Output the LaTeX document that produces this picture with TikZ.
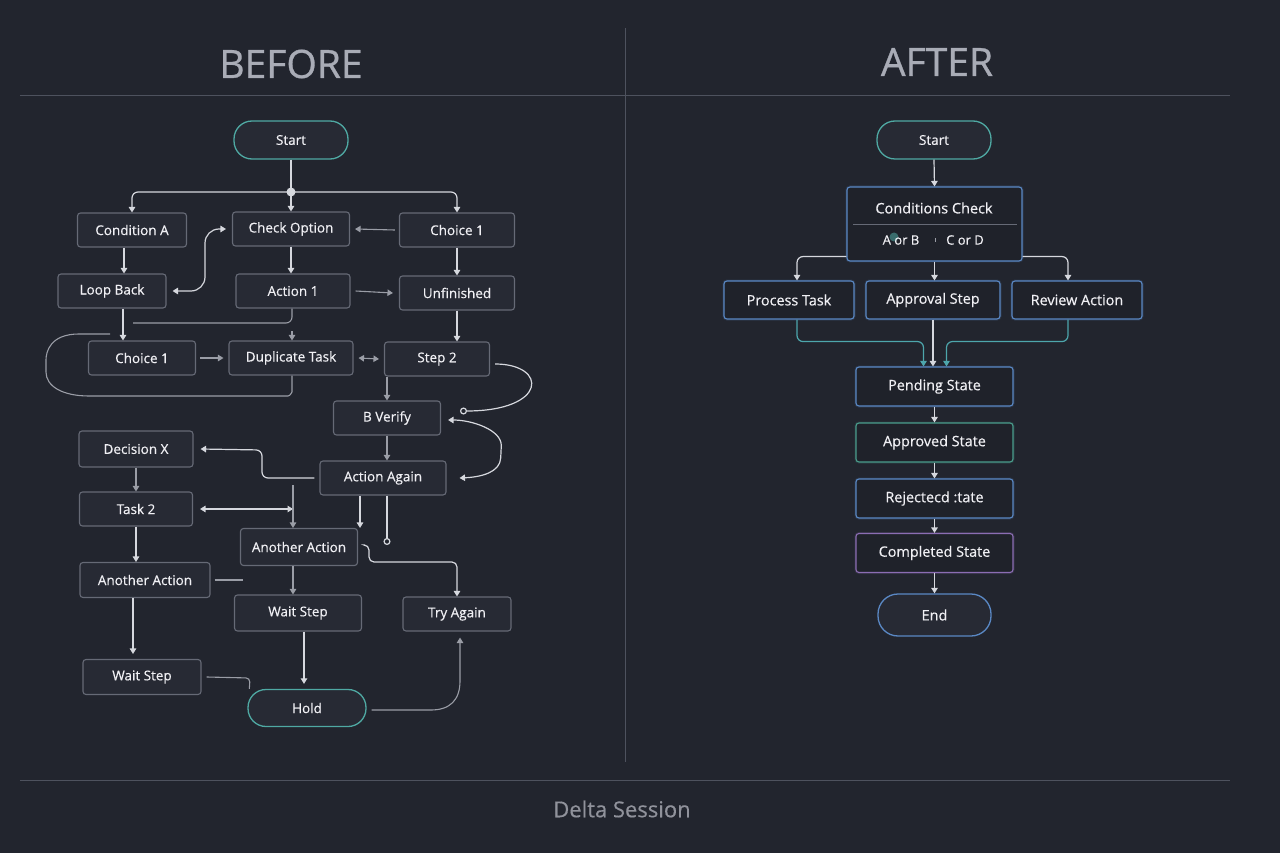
\documentclass[tikz,border=0pt]{standalone}
\usepackage{fontspec}
\setmainfont{Open Sans}
\newfontfamily\medfont{Open Sans}[FakeBold=0.45]
\newfontfamily\titfont{Open Sans}[FakeBold=0.8]
\usetikzlibrary{arrows.meta}
\definecolor{bgcol}{HTML}{22252E}
\definecolor{boxfill}{HTML}{272A34}
\definecolor{boxline}{HTML}{666A76}
\definecolor{txt}{HTML}{F0F0F4}
\definecolor{wire}{HTML}{D6D8DE}
\definecolor{wireg}{HTML}{9A9DA6}
\definecolor{tealc}{HTML}{4FA9A3}
\definecolor{bluec}{HTML}{5A88C4}
\definecolor{greenc}{HTML}{4A9C8C}
\definecolor{purplec}{HTML}{8B6DB3}
\definecolor{titlec}{HTML}{A9ACB6}
\definecolor{divc}{HTML}{4E525E}
\definecolor{tealw}{HTML}{4DA6AC}
\tikzset{
  lbl/.style={font=\medfont\fontsize{13.5}{15}\selectfont, text=txt},
  box/.style={lbl, draw=boxline, fill=boxfill, rounded corners=3pt, line width=1.1pt, minimum height=34pt, inner sep=0pt},
  term/.style={lbl, draw=tealc, fill=boxfill, rounded corners=18pt, line width=1.3pt, minimum width=114pt, minimum height=38pt, inner sep=0pt},
  rbox/.style={box, font=\medfont\fontsize{14.4}{16}\selectfont, fill=bgcol!92!black, minimum width=157pt, minimum height=39pt, draw=#1, preaction={draw=#1, line width=3pt, opacity=0.18}},
  conn/.style={draw=wire, line width=1.2pt, rounded corners=6pt},
  conng/.style={draw=wireg, line width=1.1pt, rounded corners=6pt},
  tip/.tip={Triangle[width=6.5pt,length=5.5pt]},
  arr/.style={conn, -tip},
  darr/.style={conn, tip-tip},
  arrg/.style={conng, -tip},
  darrg/.style={conng, tip-tip},
  arrt/.style={conn, draw=tealw, -tip},
  ocirc/.style={conn, -{Circle[open,length=7pt,width=7pt]}},
}
\begin{document}
\begin{tikzpicture}[x=1pt,y=-1pt]
\useasboundingbox (0,0) rectangle (1280,853);
\fill[bgcol] (0,0) rectangle (1280,853);
% frame lines
\draw[divc, line width=1pt] (20,96) -- (1230,96);
\draw[divc, line width=1pt] (20,780) -- (1230,780);
\draw[divc, line width=1pt] (625,28) -- (625,762);
\node[text=titlec, font=\titfont\fontsize{39}{44}\selectfont] (tb) at (291,64) {BEFORE};
\node[text=titlec, font=\titfont\fontsize{39}{44}\selectfont] (ta2) at (937,62) {AFTER};
\node[text=titlec!85!black, font=\medfont\fontsize{22}{26}\selectfont] (ds) at (622,809) {Delta Session};

% ---------- BEFORE ----------
\node[term] (s1) at (291,140) {Start};
\node[box, minimum width=109pt] (ca) at (132,230) {Condition A};
\node[box, minimum width=117pt] (co) at (291,229) {Check Option};
\node[box, minimum width=115pt] (c1) at (457,230) {Choice 1};
\node[box, minimum width=108pt] (lb) at (112,291) {Loop Back};
\node[box, minimum width=114pt] (a1) at (293,291) {Action 1};
\node[box, minimum width=115pt] (un) at (457,293) {Unfinished};
\node[box, minimum width=107pt] (c2) at (142,358) {Choice 1};
\node[box, minimum width=124pt] (dt) at (291,358) {Duplicate Task};
\node[box, minimum width=105pt] (s2) at (437,359) {Step 2};
\node[box, minimum width=107pt] (bv) at (387,418) {B Verify};
\node[box, minimum width=114pt, minimum height=36pt] (dx) at (136,449) {Decision X};
\node[box, minimum width=126pt] (aa) at (383,478) {Action Again};
\node[box, minimum width=113pt] (t2) at (136,509) {Task 2};
\node[box, minimum width=117pt, minimum height=37pt] (an) at (299,547) {Another Action};
\node[box, minimum width=130pt, minimum height=35pt] (al) at (145,580) {Another Action};
\node[box, minimum width=127pt, minimum height=36pt] (wm) at (298,613) {Wait Step};
\node[box, minimum width=108pt] (tg) at (457,614) {Try Again};
\node[box, minimum width=118pt, minimum height=35pt] (wl) at (142,677) {Wait Step};
\node[term, minimum width=118pt, minimum height=37pt] (hold) at (307,708) {Hold};

\coordinate (j) at (291,192);
\coordinate (e1) at (133,323);
\coordinate (e4) at (293,509);
\coordinate (e5) at (293,485);
\coordinate (e6) at (387,545);
\coordinate (e7) at (243,580);
\coordinate (co1) at (460,411);

\draw[conn] (s1.south) -- (j);
\draw[arr] (j) -| (ca.north);
\draw[arr] (j) -| (c1.north);
\draw[arr] (j) -- (co.north);
\fill[wire] (j) circle (4.5);

\draw[arr] ([xshift=-8pt]ca.south) -- ([xshift=12pt]lb.north);
\draw[darr, rounded corners=14pt] ([xshift=6pt]lb.east) -- (205,291) -- (205,229) -- ([xshift=-6pt]co.west);
\draw[arrg] ([xshift=-4pt]c1.west) -- ([xshift=5pt]co.east);
\draw[arr] (co.south) -- (co.south |- a1.north);
\draw[arrg] ([xshift=5pt]a1.east) -- ([xshift=-6pt]un.west);
\draw[arr] (c1.south) -- (un.north);
\draw[arr] ([xshift=11pt]lb.south) -- ([xshift=-19pt]c2.north);
\draw[conng] ([xshift=-1pt]a1.south) |- (e1);
\draw[arrg] ([xshift=1pt,yshift=9pt]dt.north) -- ([xshift=1pt]dt.north);
\draw[conng] (110,334) -- (85,334) .. controls (50,334) and (46,352) .. (46,366)
  .. controls (46,386) and (62,396) .. (95,396) -- (282,396) .. controls (290,396) and (292,392) .. (292,386) -- ([xshift=1pt]dt.south);
\draw[arrg] ([xshift=4pt]c2.east) -- ([xshift=-5pt]dt.west);
\draw[darrg] ([xshift=5pt]dt.east) -- ([xshift=-5pt]s2.west);
\draw[arr] (un.south) -- (un.south |- s2.north);
\draw[arrg] ([xshift=-50pt]s2.south) -- (bv.north);
\draw[ocirc] ([xshift=5pt,yshift=-5pt]s2.east) .. controls (548,364) and (548,411) .. (co1);
\draw[darr] ([xshift=7pt,yshift=-2pt]bv.east) .. controls (472,420) and (502,430) .. (501,452)
  .. controls (500,472) and (482,477) .. ([xshift=13pt]aa.east);
\draw[arrg] (bv.south) -- (bv.south |- aa.north);
\draw[arr] ([xshift=-5pt]aa.west) -- (262,478) -- (262,450) -- ([xshift=7pt]dx.east);
\draw[arrg] (dx.south) -- (dx.south |- t2.north);
\draw[darr] ([xshift=7pt]t2.east) -- (e4);
\draw[arrg] (e5) -- ([xshift=-6pt]an.north);
\draw[arr] ([xshift=-23pt]aa.south) -- ([xshift=-23pt]aa.south |- an.north);
\draw[ocirc] ([xshift=4pt]aa.south) -- (e6);
\draw[arr, rounded corners=5pt] ([shift={(7pt,2pt)}]an.east) -- (369,545) -- (369,562) -- (457,562) -- (tg.north);
\draw[arrg] ([xshift=-6pt]an.south) -- ([xshift=-6pt]an.south |- wm.north);
\draw[arr] (t2.south) -- (t2.south |- al.north);
\draw[conng] ([xshift=4pt]al.east) -- (e7);
\draw[arr, shorten >=5pt] ([xshift=-12pt]al.south) -- ([xshift=-9pt]wl.north);
\draw[arr, shorten >=5pt] ([xshift=6pt]wm.south) -- ([xshift=-3pt]hold.north);
\draw[conng, rounded corners=4pt] ([xshift=5pt]wl.east) -- (250,678) -- ([xshift=2pt]hold.north west);
\draw[arrg] ([xshift=5pt,yshift=-2pt]hold.east) -- (425,710) .. controls (450,710) and (460,700) .. (460,675) -- ([xshift=3pt,yshift=-6pt]tg.south);

% ---------- AFTER ----------
\node[term] (rs) at (934,140) {Start};
\node[rbox=bluec, minimum width=175pt, minimum height=74pt] (cc) at (934.5,224) {};
\node[lbl, font=\medfont\fontsize{14.5}{16}\selectfont] (cct) at (934,208) {Conditions Check};
\draw[boxline, line width=1pt] (853,225) -- (1017,225);
\fill[tealc, opacity=0.55] (894,237) circle (4.5);
\node[lbl, font=\medfont\fontsize{13}{15}\selectfont] (cab) at (901,240) {A or B};
\node[lbl, font=\medfont\fontsize{13}{15}\selectfont] (ccd) at (965,240) {C or D};
\draw[wireg, line width=0.8pt] (935,238) -- (935,242);
\node[rbox=bluec, minimum width=130pt, minimum height=38pt] (pt) at (789,300) {Process Task};
\node[rbox=bluec, minimum width=134pt, minimum height=38pt] (as) at (933,300) {Approval Step};
\node[rbox=bluec, minimum width=130pt, minimum height=38pt] (ra) at (1077,300) {Review Action};
\node[rbox=bluec] (ps) at (934.5,386.5) {Pending State};
\node[rbox=greenc] (ap) at (934.5,442.5) {Approved State};
\node[rbox=bluec] (rj) at (934.5,498.5) {Rejectecd :tate};
\node[rbox=purplec] (cs) at (934.5,553) {Completed State};
\node[term, draw=bluec, minimum width=113pt, minimum height=42pt, rounded corners=20pt, font=\medfont\fontsize{14.5}{16}\selectfont] (en) at (934.5,615) {End};

\draw[arr] (rs.south) -- (cc.north);
\draw[arr] ([yshift=5pt]cc.south west) -| ([xshift=8pt]pt.north);
\draw[arr] ([yshift=5pt]cc.south east) -| ([xshift=-9pt]ra.north);
\draw[arr] (cc.south) -- (cc.south |- as.north);
\draw[arrt] ([xshift=8pt]pt.south) -- ++(0,22) -| ([xshift=-11pt]ps.north);
\draw[arr] (as.south) -- (as.south |- ps.north);
\draw[arrt] ([xshift=-9pt]ra.south) -- ++(0,22) -| ([xshift=12pt]ps.north);
\draw[arr] (ps.south) -- (ap.north);
\draw[arr] (ap.south) -- (rj.north);
\draw[arr] (rj.south) -- (cs.north);
\draw[arr] (cs.south) -- (en.north);
\end{tikzpicture}
\end{document}
